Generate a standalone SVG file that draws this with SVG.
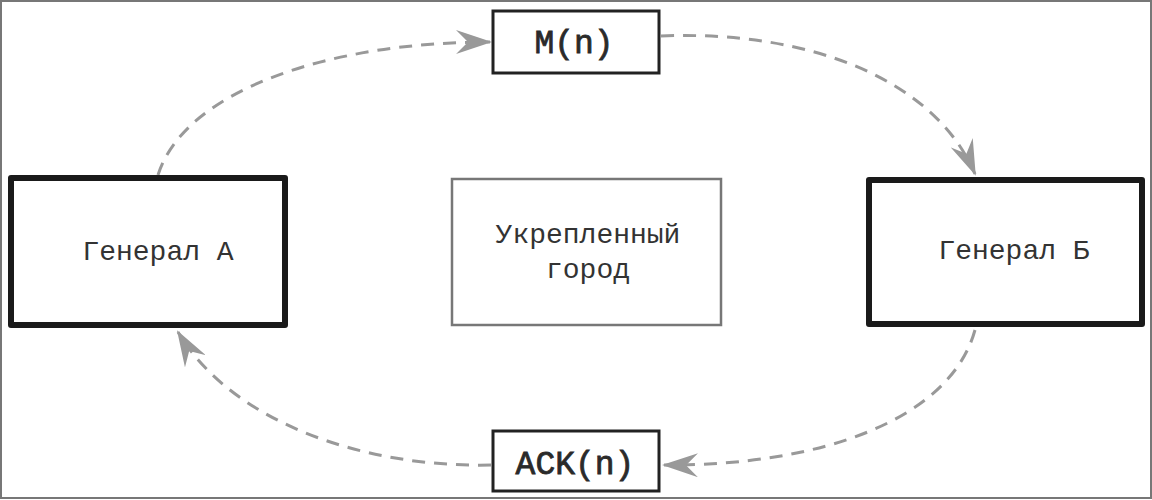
<svg xmlns="http://www.w3.org/2000/svg" width="1152" height="500" viewBox="0 0 1152 500">
<style>
.frame{fill:#fff;stroke:#777;stroke-width:2}
.gen{fill:#fff;stroke:#1a1a1a;stroke-width:6;stroke-linejoin:round}
.msg{fill:#fff;stroke:#222;stroke-width:3}
.city{fill:#fff;stroke:#777;stroke-width:2.5}
.lbl{font-family:"Liberation Mono","Courier New",monospace;font-size:28px;fill:#333;text-anchor:middle}
.mlbl{font-family:"Liberation Mono","Courier New",monospace;font-size:33px;fill:#2a2a2a;stroke:#2a2a2a;stroke-width:0.8;text-anchor:middle}
.conn{fill:none;stroke:#999;stroke-width:3;stroke-dasharray:13 9}
</style>
<defs>
<marker id="ah" viewBox="0 0 36 24" refX="34" refY="12" markerWidth="36" markerHeight="24" markerUnits="userSpaceOnUse" orient="auto">
<path d="M0,0 L36,12 L0,24 L12,12 Z" fill="#999"/>
</marker>
</defs>
<rect class="frame" x="1" y="1" width="1150" height="497"/>
<g id="connectors">
<path class="conn" d="M158,175 C185,90 330,42 490,42" marker-end="url(#ah)"/>
<path class="conn" d="M661,36 C810,30 935,80 975,174" marker-end="url(#ah)"/>
<path class="conn" d="M975,330 C950,420 820,466 664,465" marker-end="url(#ah)"/>
<path class="conn" d="M491,465 C360,468 230,420 178,332" marker-end="url(#ah)"/>
</g>
<g id="msg-m">
<rect class="msg" x="493" y="11" width="166" height="62"/>
<text class="mlbl" x="574" y="53">M(n)</text>
</g>
<g id="general-a">
<rect class="gen" x="11" y="178" width="274" height="147"/>
<text class="lbl" x="158" y="260">Генерал А</text>
</g>
<g id="city">
<rect class="city" x="452" y="179" width="269" height="146"/>
<text class="lbl" x="588" y="243">Укрепленный</text>
<text class="lbl" x="588" y="278">город</text>
</g>
<g id="general-b">
<rect class="gen" x="869" y="180" width="273" height="144"/>
<text class="lbl" x="1014" y="259">Генерал Б</text>
</g>
<g id="msg-ack">
<rect class="msg" x="493" y="431" width="166" height="60"/>
<text class="mlbl" x="575" y="474">ACK(n)</text>
</g>
</svg>
